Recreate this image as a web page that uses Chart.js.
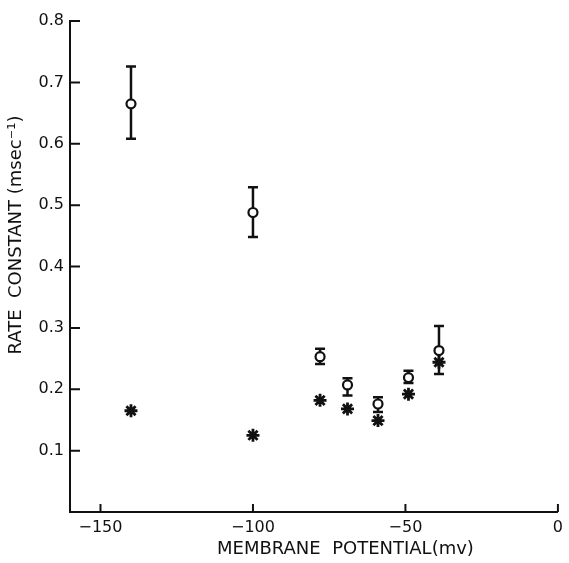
<!DOCTYPE html>
<html>
<head>
<meta charset="utf-8">
<script src="https://cdn.jsdelivr.net/npm/chart.js@4"></script>
<style>
  body { margin: 0; background: #fff; }
</style>
</head>
<body>
<canvas id="rateChart" width="569" height="563"></canvas>
<script>
// membrane potential (mV) of each measurement
const potential = [-140, -100, -78, -69, -59, -49, -39];
// open circles: mean rate constant with error bar ends
const openMean = [0.665, 0.488, 0.253, 0.207, 0.176, 0.219, 0.263];
const openHigh = [0.726, 0.529, 0.266, 0.218, 0.187, 0.230, 0.303];
const openLow = [0.608, 0.448, 0.241, 0.190, 0.163, 0.210, 0.225];
// asterisks
const starRate = [0.165, 0.125, 0.182, 0.168, 0.149, 0.192, 0.244];

const xTicks = [-150, -100, -50, 0];
const yTicks = [0.1, 0.2, 0.3, 0.4, 0.5, 0.6, 0.7, 0.8];

const ink = "#111";

const errorBars = {
  id: "errorBars",
  beforeDatasetsDraw(chart) {
    const { ctx, scales: { x, y } } = chart;
    ctx.save();
    ctx.strokeStyle = ink;
    ctx.lineWidth = 2.5;
    potential.forEach((v, i) => {
      const px = x.getPixelForValue(v);
      const top = y.getPixelForValue(openHigh[i]);
      const bot = y.getPixelForValue(openLow[i]);
      ctx.beginPath();
      ctx.moveTo(px, top);
      ctx.lineTo(px, bot);
      ctx.moveTo(px - 5, top);
      ctx.lineTo(px + 5, top);
      ctx.moveTo(px - 5, bot);
      ctx.lineTo(px + 5, bot);
      ctx.stroke();
    });
    ctx.restore();
  }
};

// tick marks point into the plot, as in the original figure
const innerTicks = {
  id: "innerTicks",
  afterDraw(chart) {
    const { ctx, chartArea, scales: { x, y } } = chart;
    ctx.save();
    ctx.strokeStyle = ink;
    ctx.lineWidth = 2;
    ctx.beginPath();
    x.ticks.forEach(t => {
      const px = x.getPixelForValue(t.value);
      ctx.moveTo(px, chartArea.bottom);
      ctx.lineTo(px, chartArea.bottom - 8);
    });
    y.ticks.forEach(t => {
      const py = y.getPixelForValue(t.value);
      ctx.moveTo(chartArea.left, py);
      ctx.lineTo(chartArea.left + 10, py);
    });
    ctx.stroke();
    ctx.restore();
  }
};

const nbsp = "\u00A0";

new Chart(document.getElementById("rateChart"), {
  type: "scatter",
  data: {
    datasets: [
      {
        label: "rate constant",
        data: potential.map((v, i) => ({ x: v, y: openMean[i] })),
        pointStyle: "circle",
        pointRadius: 4.5,
        pointHoverRadius: 4.5,
        borderWidth: 2.2,
        borderColor: ink,
        backgroundColor: "#fff"
      },
      {
        label: "asterisk",
        data: potential.map((v, i) => ({ x: v, y: starRate[i] })),
        pointStyle: "star",
        pointRadius: 6.5,
        pointHoverRadius: 6.5,
        borderWidth: 2.8,
        borderColor: ink,
        backgroundColor: ink
      }
    ]
  },
  options: {
    responsive: false,
    animation: false,
    layout: { padding: { top: 21, right: 10, left: 0, bottom: 0 } },
    plugins: {
      legend: { display: false },
      tooltip: { enabled: false }
    },
    scales: {
      x: {
        type: "linear",
        min: -160,
        max: 0,
        afterBuildTicks: s => { s.ticks = xTicks.map(v => ({ value: v })); },
        afterFit: s => { s.height = 51; },
        grid: { display: true, drawOnChartArea: false, drawTicks: false },
        border: { display: true, color: ink, width: 2 },
        ticks: {
          color: ink,
          padding: 6,
          font: { family: "DejaVu Sans", size: 16 },
          callback: v => (v < 0 ? "\u2212" + Math.abs(v) : "0")
        },
        title: {
          display: true,
          text: nbsp.repeat(11) + "MEMBRANE  POTENTIAL(mv)",
          color: ink,
          font: { family: "DejaVu Sans", size: 18 },
          padding: { top: 0, bottom: 3 }
        }
      },
      y: {
        type: "linear",
        min: 0,
        max: 0.8,
        afterBuildTicks: s => { s.ticks = yTicks.map(v => ({ value: v })); },
        afterFit: s => { s.width = 70; },
        grid: { display: true, drawOnChartArea: false, drawTicks: false },
        border: { display: true, color: ink, width: 2 },
        ticks: {
          color: ink,
          padding: 6,
          font: { family: "DejaVu Sans", size: 16 },
          callback: v => v.toFixed(1)
        },
        title: {
          display: true,
          text: nbsp.repeat(11) + "RATE  CONSTANT (msec\u207B\u00B9)",
          color: ink,
          font: { family: "DejaVu Sans", size: 18 },
          padding: { top: 6, bottom: 0 }
        }
      }
    }
  },
  plugins: [errorBars, innerTicks]
});
</script>
</body>
</html>
